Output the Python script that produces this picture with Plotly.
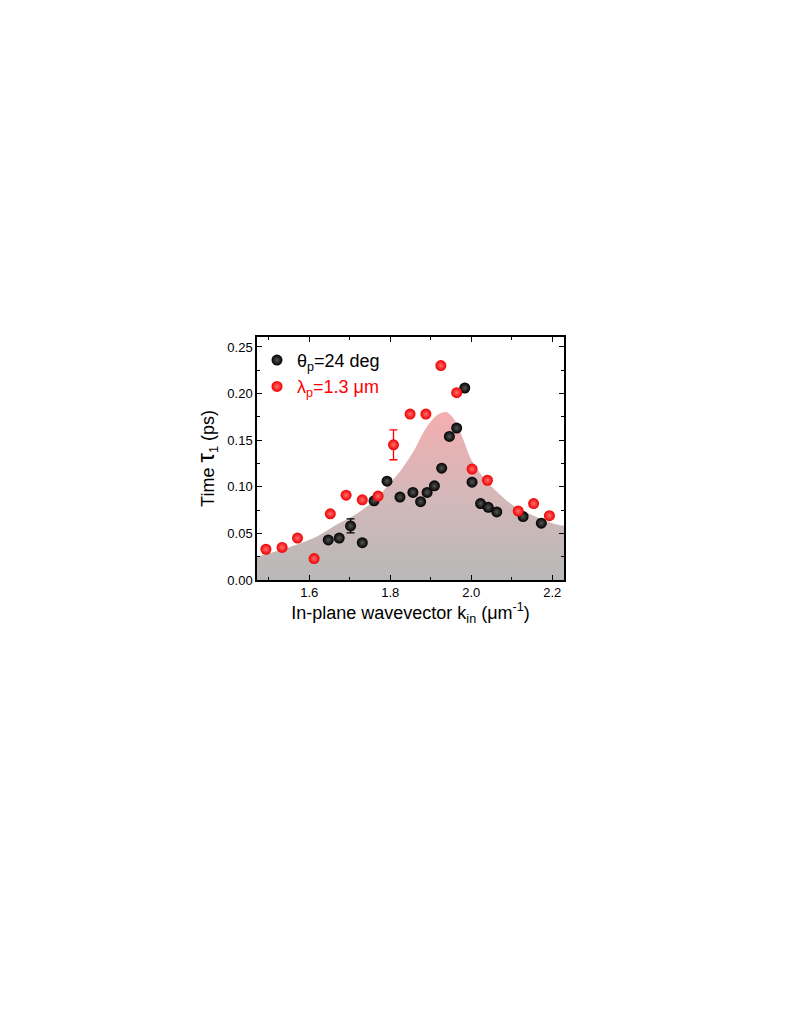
import plotly.graph_objects as go

# black series: theta_p = 24 deg
k_theta = [1.647, 1.674, 1.702, 1.731, 1.760, 1.792, 1.824, 1.856, 1.875, 1.891, 1.909,
           1.927, 1.946, 1.964, 1.984, 2.002, 2.023, 2.042, 2.063, 2.128, 2.173]
tau_theta = [0.043, 0.045, 0.058, 0.040, 0.085, 0.106, 0.089, 0.094, 0.084, 0.094, 0.101,
             0.120, 0.154, 0.163, 0.206, 0.105, 0.082, 0.078, 0.073, 0.068, 0.061]

# red series: lambda_p = 1.3 um
k_lambda = [1.493, 1.533, 1.571, 1.612, 1.652, 1.691, 1.731, 1.770, 1.808, 1.849, 1.888,
            1.925, 1.964, 2.002, 2.040, 2.116, 2.154, 2.193]
tau_lambda = [0.033, 0.035, 0.045, 0.023, 0.071, 0.091, 0.086, 0.090, 0.145, 0.178, 0.178,
              0.230, 0.201, 0.119, 0.107, 0.074, 0.082, 0.069]

# error bars shown on one point of each series
err_theta_k, err_theta_tau, err_theta = [1.702], [0.058], [0.0075]
err_lambda_k, err_lambda_tau, err_lambda = [1.808], [0.145], [0.016]

# shaded resonance curve
k_curve = [1.47, 1.52, 1.57, 1.62, 1.67, 1.72, 1.76, 1.80, 1.83, 1.86, 1.88, 1.90, 1.92,
           1.94, 1.96, 1.98, 2.00, 2.03, 2.06, 2.10, 2.15, 2.20, 2.23]
tau_curve = [0.025, 0.031, 0.038, 0.047, 0.060, 0.072, 0.085, 0.104, 0.120, 0.140, 0.157,
             0.170, 0.178, 0.180, 0.171, 0.151, 0.129, 0.110, 0.096, 0.081, 0.0697, 0.061, 0.058]

fig = go.Figure()

fig.add_trace(go.Scatter(
    x=k_curve, y=tau_curve, mode="lines", line=dict(width=0, shape="spline", smoothing=0.8),
    fill="tozeroy",
    fillgradient=dict(type="vertical",
                      colorscale=[[0, "rgb(184,184,184)"], [0.5, "rgb(212,184,185)"],
                                  [1, "rgb(244,174,176)"]]),
    showlegend=False, hoverinfo="skip"))

fig.add_trace(go.Scatter(
    x=err_theta_k, y=err_theta_tau, mode="markers", marker=dict(size=1, color="black"),
    error_y=dict(type="data", array=err_theta, color="black", thickness=1.3, width=4),
    showlegend=False))
fig.add_trace(go.Scatter(
    x=err_lambda_k, y=err_lambda_tau, mode="markers", marker=dict(size=1, color="red"),
    error_y=dict(type="data", array=err_lambda, color="red", thickness=1.3, width=4),
    showlegend=False))

fig.add_trace(go.Scatter(
    x=k_theta, y=tau_theta, mode="markers",
    name="θ<sub>p</sub>=24 deg",
    marker=dict(size=11, color="rgb(0,0,0)",
                gradient=dict(type="radial", color="rgb(85,85,85)"),
                line=dict(width=0))))
fig.add_trace(go.Scatter(
    x=k_lambda, y=tau_lambda, mode="markers",
    name="<span style='color:red'>λ<sub>p</sub>=1.3 μm</span>",
    marker=dict(size=11, color="rgb(240,0,0)",
                gradient=dict(type="radial", color="rgb(255,110,110)"),
                line=dict(width=0))))

axis_common = dict(showline=True, linecolor="black", linewidth=1.5, mirror="ticks",
                   ticks="inside", ticklen=5, tickwidth=1, tickcolor="black",
                   showgrid=False, zeroline=False,
                   tickfont=dict(family="Liberation Sans, Arial", size=13, color="black"))

fig.update_xaxes(range=[1.471, 2.229], tick0=1.6, dtick=0.2, tickformat=".1f",
                 minor=dict(ticks="inside", ticklen=3, dtick=0.1, tick0=1.5, tickcolor="black"),
                 title=dict(text="In-plane wavevector k<sub>in</sub> (μm<sup>-1</sup>)",
                            font=dict(family="Liberation Sans, Arial", size=18, color="black"),
                            standoff=2),
                 **axis_common)
fig.update_yaxes(range=[0, 0.2607], tick0=0, dtick=0.05, tickformat=".2f",
                 minor=dict(ticks="inside", ticklen=3, dtick=0.025, tickcolor="black"),
                 title=dict(text="Time <span style='font-size:24px'>τ</span><sub>1</sub> (ps)",
                            font=dict(family="Liberation Sans, Arial", size=18, color="black"),
                            standoff=8),
                 **axis_common)

# the page body adds an 8px margin, so the figure is shifted back by that much
fig.update_layout(
    width=773, height=1005,
    margin=dict(l=249, r=217, t=329, b=433),
    plot_bgcolor="white", paper_bgcolor="white",
    legend=dict(x=0.0, y=0.98, xanchor="left", yanchor="top", bgcolor="rgba(0,0,0,0)",
                font=dict(family="Liberation Sans, Arial", size=18, color="black"),
                itemwidth=30, tracegroupgap=4),
)

fig.write_html("out.html")
